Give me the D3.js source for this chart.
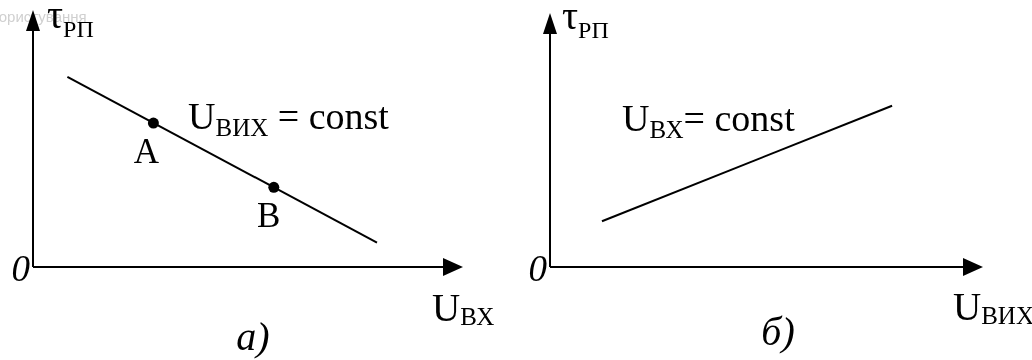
<!DOCTYPE html>
<html>
<head>
<meta charset="utf-8">
<script src="https://cdn.jsdelivr.net/npm/d3@7"></script>
</head>
<body style="margin:0">
<svg id="chart" width="1032" height="360"></svg>
<script>
// Panel a): response time vs input voltage at constant output voltage
const lineA = [{u: 0.8, t: 7.4}, {u: 8.0, t: 0.95}];
const pointsA = [{u: 2.8, t: 5.6, name: "A"}, {u: 5.6, t: 3.1, name: "B"}];

// Panel б): response time vs output voltage at constant input voltage
const lineB = [{u: 1.2, t: 1.8}, {u: 7.9, t: 6.35}];

// Axis and panel captions
const captions = ["а)", "б)"];
const yLabel = {main: "τ", sub: "РП"};
const xLabels = [{main: "U", sub: "ВХ"}, {main: "U", sub: "ВИХ"}];
const curveLabels = [
  {main: "U", sub: "ВИХ", rest: " = const"},
  {main: "U", sub: "ВХ", rest: "= const"}
];

const svg = d3.select("#chart");

function txt(x, y, size) {
  return svg.append("text")
    .attr("x", x).attr("y", y)
    .style("font-family", `"Liberation Serif"`)
    .style("font-size", size + "px");
}

function subLabel(x, y, lab, size, subSize, subDy) {
  const t = txt(x, y, size);
  t.append("tspan").text(lab.main);
  t.append("tspan").attr("dy", subDy).style("font-size", subSize + "px").text(lab.sub);
  if (lab.rest) t.append("tspan").attr("dy", -subDy).text(lab.rest);
  return t;
}

function axes(x, y, xTip, yTip) {
  const x0 = x(0), y0 = y(0);
  svg.append("line")
    .attr("x1", x0).attr("y1", y0).attr("x2", xTip - 6).attr("y2", y0)
    .attr("stroke", "#000").attr("stroke-width", 2);
  svg.append("line")
    .attr("x1", x0).attr("y1", y0).attr("x2", x0).attr("y2", yTip + 6)
    .attr("stroke", "#000").attr("stroke-width", 2);
  // arrowheads
  svg.append("path")
    .attr("d", `M${xTip},${y0} L${xTip - 20},${y0 - 9} L${xTip - 20},${y0 + 9} Z`)
    .attr("fill", "#000");
  svg.append("path")
    .attr("d", `M${x0},${yTip} L${x0 - 7},${yTip + 21} L${x0 + 7},${yTip + 21} Z`)
    .attr("fill", "#000");
}

const line = (x, y) => d3.line().x(d => x(d.u)).y(d => y(d.t));

const xA = d3.scaleLinear().domain([0, 10]).range([33, 463]);
const yA = d3.scaleLinear().domain([0, 10]).range([267, 10]);
const xB = d3.scaleLinear().domain([0, 10]).range([550, 983]);
const yB = d3.scaleLinear().domain([0, 10]).range([267, 13]);

// ---------- labels ----------
subLabel(47, 28, yLabel, 40, 24, 9);
subLabel(562, 29, yLabel, 40, 24, 9);
subLabel(188, 129, curveLabels[0], 38, 25, 7);
subLabel(622, 131, curveLabels[1], 38, 25, 7);
subLabel(432, 321, xLabels[0], 39, 25, 4);
subLabel(953, 320, xLabels[1], 39, 25, 4);

txt(30, 281, 37).attr("text-anchor", "end")
  .style("font-style", "italic").text("0");
txt(547, 281, 37).attr("text-anchor", "end")
  .style("font-style", "italic").text("0");
txt(253, 350, 40).attr("text-anchor", "middle")
  .style("font-style", "italic").text(captions[0]);
txt(778, 345, 40).attr("text-anchor", "middle")
  .style("font-style", "italic").text(captions[1]);

pointsA.forEach(d => {
  txt(xA(d.u) - (d.name === "A" ? 7 : 5), yA(d.t) + 40, 35)
    .attr("text-anchor", "middle").text(d.name);
});

// ---------- panel a) ----------
axes(xA, yA, 463, 10);

svg.append("path").datum(lineA)
  .attr("d", line(xA, yA))
  .attr("fill", "none").attr("stroke", "#000").attr("stroke-width", 2);

svg.selectAll("circle.pt").data(pointsA).join("circle")
  .attr("class", "pt")
  .attr("cx", d => xA(d.u)).attr("cy", d => yA(d.t)).attr("r", 5.5)
  .attr("fill", "#000");

// ---------- panel б) ----------
axes(xB, yB, 983, 13);

svg.append("path").datum(lineB)
  .attr("d", line(xB, yB))
  .attr("fill", "none").attr("stroke", "#000").attr("stroke-width", 2);

// faint watermark in the top-left corner
svg.append("text")
  .attr("x", -8).attr("y", 22)
  .style("font-family", `"Liberation Sans"`)
  .style("font-size", "15px")
  .style("fill", "#d0d0d0")
  .style("mix-blend-mode", "multiply")
  .text("користування");
</script>
</body>
</html>
